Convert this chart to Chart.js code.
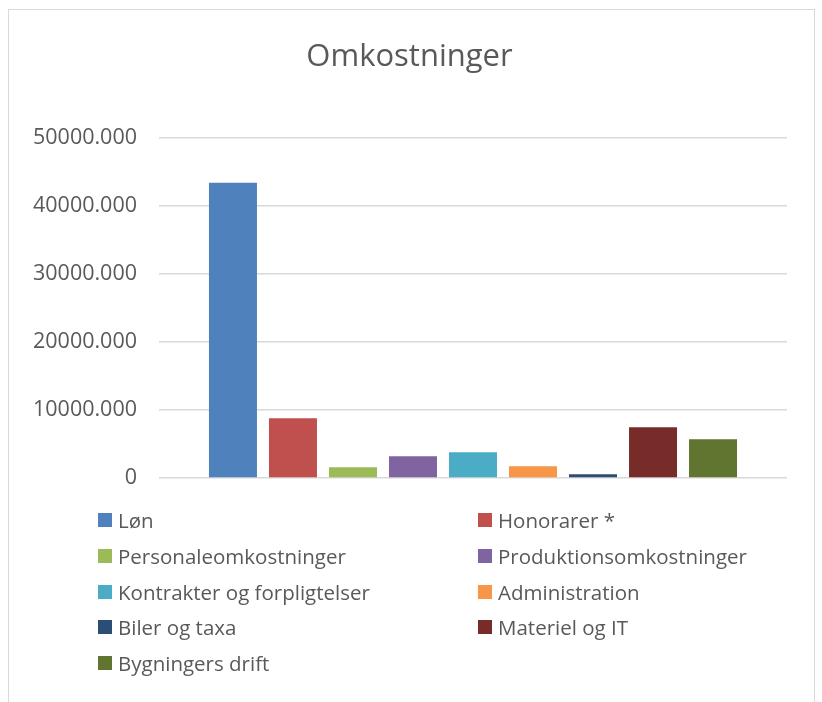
<!DOCTYPE html>
<html>
<head>
<meta charset="utf-8">
<script src="https://cdn.jsdelivr.net/npm/chart.js@4"></script>
<style>
  html, body { margin: 0; padding: 0; background: #fff; overflow: hidden; }
  #wrap { position: relative; width: 822px; height: 702px; }
  #frame { position: absolute; left: 8px; top: 9px; width: 807px; height: 720px; border: 1.5px solid #d9d9d9; box-sizing: border-box; }
  canvas { position: absolute; left: 0; top: 0; }
  #legend { position: absolute; left: 0; top: 0; width: 822px; height: 702px; pointer-events: none;
            font-family: "Open Sans", sans-serif; font-size: 20.5px; color: #595959; }
  .item { position: absolute; display: flex; align-items: center; white-space: nowrap; height: 30px; }
  .box { width: 14px; height: 14px; margin-right: 6px; flex: none; }
</style>
</head>
<body>
<div id="wrap">
  <div id="frame"></div>
  <canvas id="c" width="822" height="702"></canvas>
  <div id="legend"></div>
</div>
<script>
const title = "Omkostninger";
const categories = [""];
const seriesNames = [
  "Løn", "Honorarer *", "Personaleomkostninger", "Produktionsomkostninger",
  "Kontrakter og forpligtelser", "Administration", "Biler og taxa",
  "Materiel og IT", "Bygningers drift"
];
const seriesValues = [43450, 8790, 1580, 3200, 3780, 1720, 550, 7470, 5700];
const seriesColors = [
  "#4F81BD", "#C0504D", "#9BBB59", "#8064A2", "#4BACC6",
  "#F79646", "#2C4D75", "#772C2A", "#5F7530"
];
const yTicks = [0, 10000, 20000, 30000, 40000, 50000];

const datasets = seriesNames.map((name, i) => ({
  label: name,
  data: [seriesValues[i]],
  backgroundColor: seriesColors[i],
  borderWidth: 0,
  categoryPercentage: 0.86,
  barPercentage: 0.8
}));

new Chart(document.getElementById('c'), {
  type: 'bar',
  data: { labels: categories, datasets },
  options: {
    responsive: false,
    animation: false,
    layout: { padding: { left: 32, right: 35, top: 0, bottom: 224 } },
    plugins: {
      legend: { display: false },
      tooltip: { enabled: false },
      title: {
        display: true,
        text: title,
        color: '#595959',
        font: { family: 'Open Sans', size: 31, weight: 'normal', lineHeight: 1.2 },
        padding: { top: 39, bottom: 62 }
      }
    },
    scales: {
      x: { display: false },
      y: {
        min: 0, max: 50000,
        afterBuildTicks: (axis) => { axis.ticks = yTicks.map(v => ({ value: v })); },
        afterFit: (axis) => { axis.width = 127; },
        border: { display: false },
        grid: { color: '#d9d9d9', lineWidth: 1.6, drawTicks: false },
        ticks: {
          padding: 22,
          color: '#595959',
          font: { family: 'Open Sans', size: 21.5 },
          callback: (v) => v === 0 ? '0' : Number(v).toFixed(3)
        }
      }
    }
  }
});

// Two-column legend
const legend = document.getElementById('legend');
const colX = [98, 478];
const rowY0 = 520, rowStep = 35.8;
seriesNames.forEach((name, i) => {
  const col = i % 2, row = Math.floor(i / 2);
  const el = document.createElement('div');
  el.className = 'item';
  el.style.left = colX[col] + 'px';
  el.style.top = (rowY0 + row * rowStep - 15) + 'px';
  const b = document.createElement('span');
  b.className = 'box';
  b.style.background = seriesColors[i];
  const t = document.createElement('span');
  t.textContent = name;
  el.appendChild(b); el.appendChild(t);
  legend.appendChild(el);
});
</script>
</body>
</html>
